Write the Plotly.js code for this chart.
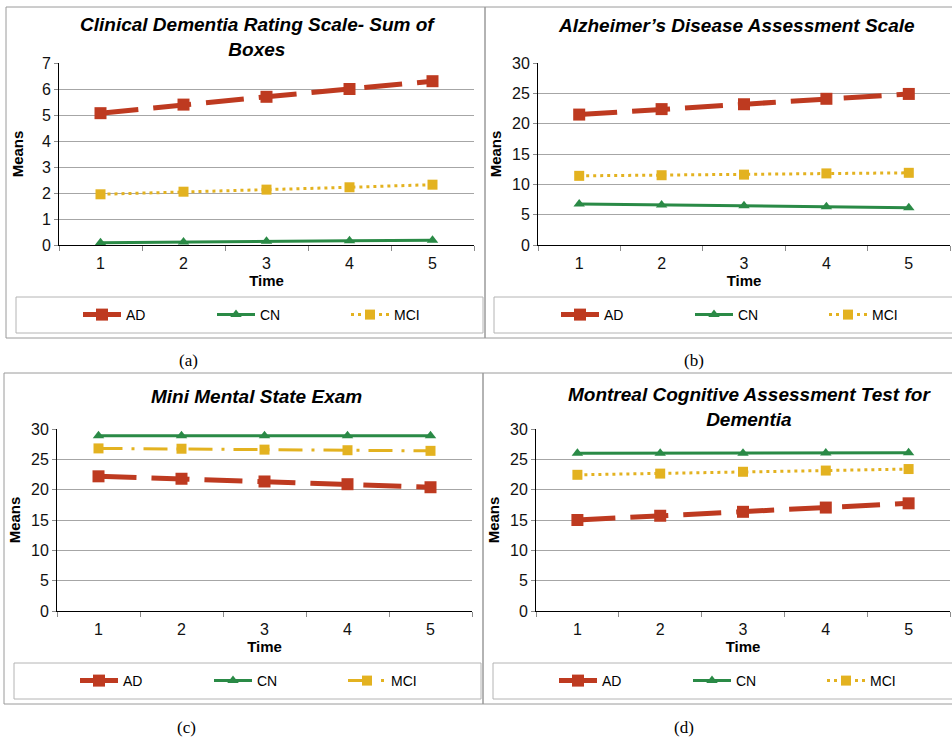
<!DOCTYPE html>
<html>
<head>
<meta charset="utf-8">
<script src="https://cdn.plot.ly/plotly-3.0.1.min.js"></script>
<style>html,body{margin:0;padding:0;background:#fff;}#chart{width:952px;height:738px;}</style>
</head>
<body>
<div id="chart"></div>
<script>
// ---------- data ----------
const time = ['1', '2', '3', '4', '5'];
const groups = ['AD', 'CN', 'MCI'];

const cdrAD  = [5.07, 5.40, 5.70, 6.00, 6.30];
const cdrCN  = [0.09, 0.12, 0.14, 0.16, 0.18];
const cdrMCI = [1.95, 2.05, 2.13, 2.22, 2.32];

const adasAD  = [21.5, 22.4, 23.2, 24.1, 24.9];
const adasCN  = [6.75, 6.6, 6.45, 6.3, 6.15];
const adasMCI = [11.4, 11.5, 11.6, 11.8, 11.9];

const mmseAD  = [22.2, 21.8, 21.35, 20.9, 20.4];
const mmseCN  = [28.9, 28.9, 28.9, 28.9, 28.9];
const mmseMCI = [26.8, 26.75, 26.6, 26.5, 26.4];

const mocaAD  = [15.0, 15.7, 16.35, 17.05, 17.75];
const mocaCN  = [26.0, 26.0, 26.0, 26.05, 26.1];
const mocaMCI = [22.45, 22.65, 22.95, 23.15, 23.4];

const titles = [
  'Clinical Dementia Rating Scale- Sum of<br>Boxes',
  'Alzheimer\u2019s Disease Assessment Scale',
  'Mini Mental State Exam',
  'Montreal Cognitive Assessment Test for<br>Dementia'
];
const captions = ['(a)', '(b)', '(c)', '(d)'];
const yMax = [7, 30, 30, 30];
const yStep = [1, 5, 5, 5];

// ---------- styling ----------
const W = 952, H = 738;
const px = x => x / W;
const py = y => 1 - y / H;
const FONT = 'Liberation Sans, Arial, sans-serif';
const cAD = '#BE3A20', cCN = '#2A8A46', cMCI = '#E3B220';

const panels = [
  {data: [cdrAD, cdrCN, cdrMCI],   x0: 59,  x1: 474, y0: 63,  y1: 245, mciDash: '3px,4px', tx: 257, ty: 37,  cx: 188, cy: 360, legX: 78,  legY: 315, ystand: 14},
  {data: [adasAD, adasCN, adasMCI], x0: 538, x1: 950, y0: 63,  y1: 245, mciDash: '3px,4px', tx: 736, ty: 26,  cx: 694, cy: 360, legX: 556, legY: 315, ystand: 6},
  {data: [mmseAD, mmseCN, mmseMCI], x0: 57,  x1: 472, y0: 429, y1: 611, mciDash: '24px,9px,3px,9px', tx: 256, ty: 396, cx: 186, cy: 727, legX: 75, legY: 681, ystand: 6},
  {data: [mocaAD, mocaCN, mocaMCI], x0: 536, x1: 950, y0: 429, y1: 611, mciDash: '3px,4px', tx: 749, ty: 407, cx: 684, cy: 727, legX: 554, legY: 681, ystand: 6}
];

const traces = [];
const layout = {
  width: W, height: H,
  margin: {l: 0, r: 0, t: 0, b: 0, autoexpand: false},
  paper_bgcolor: '#fff', plot_bgcolor: '#fff',
  font: {family: FONT, color: '#000'},
  showlegend: true,
  annotations: [], shapes: []
};

// panel frames & legend boxes
const frames = [[6, 7, 485, 338], [485, 7, 953, 338], [4, 373, 483, 704], [483, 373, 953, 704]];
const legBoxes = [[16, 297, 483, 333], [494, 297, 953, 333], [14, 663, 481, 699], [493, 663, 953, 699]];
frames.forEach(f => layout.shapes.push({type: 'rect', xref: 'paper', yref: 'paper', x0: px(f[0]), x1: px(f[2]), y0: py(f[1]), y1: py(f[3]), line: {color: '#9a9a9a', width: 1}}));
legBoxes.forEach(f => layout.shapes.push({type: 'rect', xref: 'paper', yref: 'paper', x0: px(f[0]), x1: px(f[2]), y0: py(f[1]), y1: py(f[3]), line: {color: '#b4b4b4', width: 1}}));

panels.forEach((p, i) => {
  const n = i === 0 ? '' : String(i + 1);
  const xa = 'x' + n, ya = 'y' + n, lg = 'legend' + n;
  const styles = [
    {line: {color: cAD, width: 5, dash: '38px,15px'}, marker: {symbol: 'square', size: 12, color: cAD}},
    {line: {color: cCN, width: 3}, marker: {symbol: 'triangle-up', size: 10, color: cCN}},
    {line: {color: cMCI, width: 3, dash: p.mciDash}, marker: {symbol: 'square', size: 10, color: cMCI}}
  ];
  p.data.forEach((vals, k) => {
    traces.push(Object.assign({
      type: 'scatter', mode: 'lines+markers', name: groups[k],
      x: time, y: vals, xaxis: xa, yaxis: ya, legend: lg, showlegend: true,
      hoverinfo: 'skip'
    }, styles[k]));
  });
  layout['xaxis' + n] = {
    domain: [px(p.x0), px(p.x1)], anchor: ya, type: 'category',
    range: [-0.5, 4.5], tickson: 'boundaries', ticks: 'outside', ticklen: 5,
    tickcolor: '#8c8c8c', showline: true, linecolor: '#000', linewidth: 1,
    showgrid: false, zeroline: false, fixedrange: true, ticklabelstandoff: 4,
    tickfont: {family: FONT, size: 16, color: '#111'},
    title: {text: '<b>Time</b>', font: {family: FONT, size: 15, color: '#000'}, standoff: 2}
  };
  layout['yaxis' + n] = {
    domain: [py(p.y1), py(p.y0)], anchor: xa, range: [0, yMax[i]], dtick: yStep[i],
    ticks: 'outside', ticklen: 4, tickcolor: '#8c8c8c',
    showline: true, linecolor: '#000', linewidth: 1,
    showgrid: true, gridcolor: '#a6a6a6', gridwidth: 1, zeroline: false, fixedrange: true,
    tickfont: {family: FONT, size: 16, color: '#111'},
    title: {text: '<b>Means</b>', font: {family: FONT, size: 15, color: '#000'}, standoff: p.ystand}
  };
  layout[lg] = {
    orientation: 'h', x: px(p.legX), xanchor: 'left', y: py(p.legY), yanchor: 'middle',
    bgcolor: 'rgba(0,0,0,0)', borderwidth: 0, traceorder: 'normal',
    font: {family: FONT, size: 14, color: '#000'}, entrywidth: 81, itemwidth: 38
  };
  layout.annotations.push({
    xref: 'paper', yref: 'paper', x: px(p.tx), y: py(p.ty), xanchor: 'center', yanchor: 'middle',
    text: '<b><i>' + titles[i] + '</i></b>', showarrow: false,
    font: {family: FONT, size: 19, color: '#000'}
  });
  layout.annotations.push({
    xref: 'paper', yref: 'paper', x: px(p.cx), y: py(p.cy), xanchor: 'center', yanchor: 'middle',
    text: captions[i], showarrow: false,
    font: {family: 'Liberation Serif, Times New Roman, serif', size: 17, color: '#000'}
  });
});

Plotly.newPlot('chart', traces, layout, {staticPlot: true, displayModeBar: false});
</script>
</body>
</html>
